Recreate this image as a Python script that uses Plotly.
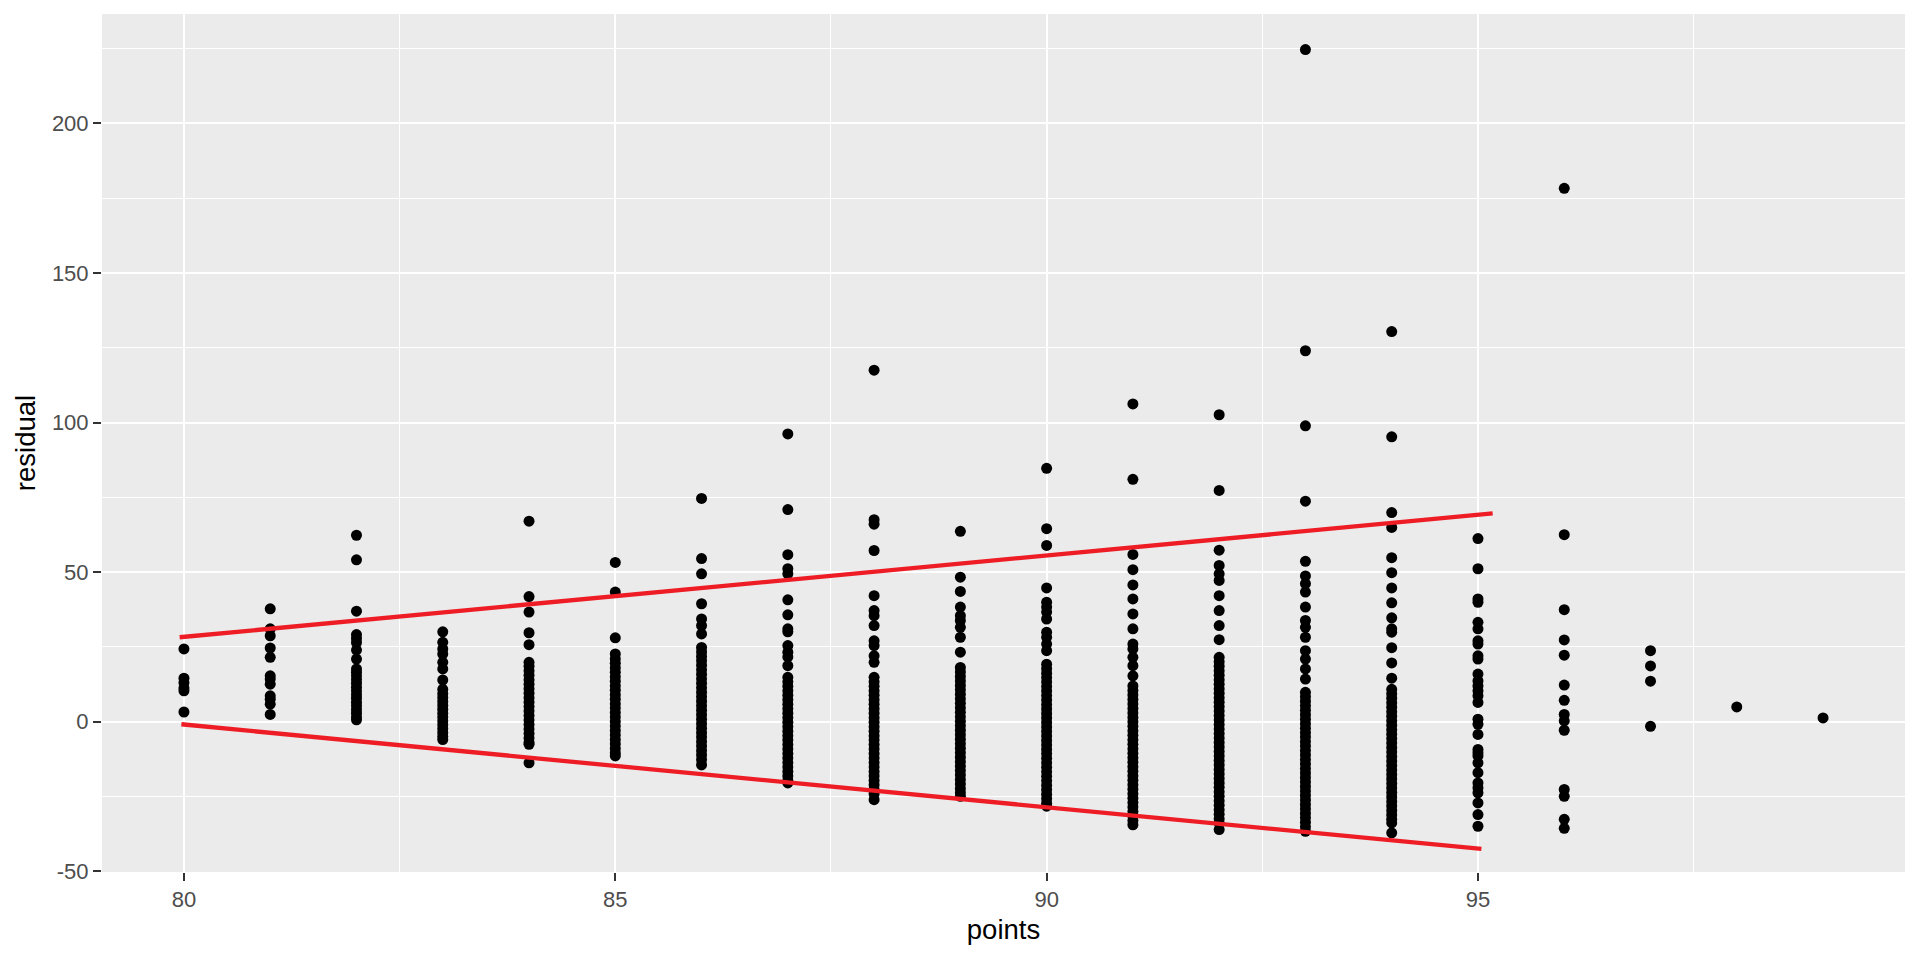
import plotly.graph_objects as go

# ---- data ----
res_80 = [24.3, 14.5, 13.0, 11.2, 10.3, 3.2]
res_81 = [37.7, 31.0, 28.7, 24.6, 21.5, 15.3, 14.2, 12.5, 8.6, 7.5, 5.8, 2.4]
res_82 = [62.3, 54.1, 36.9, 29.1, 27.8, 26.4, 23.9, 20.9, 17.6, 16.5, 15.3, 14.0, 12.8,
          11.5, 10.3, 9.0, 7.8, 6.5, 5.3, 4.0, 2.8, 1.5, 0.6]
res_83 = [30.0, 26.5, 24.3, 22.6, 19.8, 17.6, 13.9, 10.8, 9.3, 8.0, 6.7, 5.4, 4.1, 2.8,
          1.5, 0.2, -1.1, -2.4, -3.7, -5.0, -6.0]
res_84 = [67.0, 41.8, 36.6, 29.7, 25.7, 19.8, 18.5, 17.0, 15.5, 14.0, 12.5, 11.0, 9.5,
          8.0, 6.5, 5.0, 3.5, 2.0, 0.5, -1.0, -2.5, -4.0, -5.5, -7.0, -7.6, -13.8]
res_85 = [53.2, 43.3, 28.0, 22.6, 21.0, 19.5, 18.0, 16.5, 15.0, 13.5, 12.0, 10.5, 9.0,
          7.5, 6.0, 4.5, 3.0, 1.5, 0.0, -1.5, -3.0, -4.5, -6.0, -7.5, -9.0, -10.5, -11.5]
res_86 = [74.6, 54.5, 49.4, 39.4, 34.3, 32.1, 29.3, 24.8, 23.3, 21.8, 20.3, 18.8, 17.3,
          15.8, 14.3, 12.8, 11.3, 9.8, 8.3, 6.8, 5.3, 3.8, 2.3, 0.8, -0.7, -2.2, -3.7,
          -5.2, -6.7, -8.2, -9.7, -11.2, -12.7, -14.5]
res_87 = [96.2, 70.9, 55.8, 51.1, 49.4, 40.7, 35.7, 31.0, 30.0, 25.4, 23.2, 21.6, 18.7,
          14.8, 13.3, 11.8, 10.3, 8.8, 7.3, 5.8, 4.3, 2.8, 1.3, -0.2, -1.7, -3.2, -4.7,
          -6.2, -7.7, -9.2, -10.7, -12.2, -13.7, -15.2, -16.7, -18.2, -19.7, -20.5]
res_88 = [117.5, 67.5, 66.0, 57.2, 42.1, 37.1, 35.4, 32.1, 27.0, 25.4, 22.0, 19.8, 14.8,
          13.3, 11.8, 10.3, 8.8, 7.3, 5.8, 4.3, 2.8, 1.3, -0.2, -1.7, -3.2, -4.7, -6.2,
          -7.7, -9.2, -10.7, -12.2, -13.7, -15.2, -16.7, -18.2, -19.7, -21.2, -22.7,
          -24.2, -26.1]
res_89 = [63.6, 48.3, 43.5, 38.3, 35.4, 33.8, 31.5, 28.2, 23.2, 18.1, 16.6, 15.1, 13.6,
          12.1, 10.6, 9.1, 7.6, 6.1, 4.6, 3.1, 1.6, 0.1, -1.4, -2.9, -4.4, -5.9, -7.4,
          -8.9, -10.4, -11.9, -13.4, -14.9, -16.4, -17.9, -19.4, -20.9, -22.4, -23.8, -25.0]
res_90 = [84.7, 64.5, 58.9, 44.7, 39.9, 38.3, 36.6, 34.3, 29.9, 28.2, 25.9, 23.7, 19.2,
          17.7, 16.2, 14.7, 13.2, 11.7, 10.2, 8.7, 7.2, 5.7, 4.2, 2.7, 1.2, -0.3, -1.8,
          -3.3, -4.8, -6.3, -7.8, -9.3, -10.8, -12.3, -13.8, -15.3, -16.8, -18.3, -19.8,
          -21.3, -22.8, -24.3, -25.8, -27.3, -28.3]
res_91 = [106.2, 81.0, 55.9, 50.8, 45.7, 41.0, 36.0, 31.0, 25.9, 24.3, 21.5, 18.7, 15.3,
          11.9, 10.4, 8.9, 7.4, 5.9, 4.4, 2.9, 1.4, -0.1, -1.6, -3.1, -4.6, -6.1, -7.6,
          -9.1, -10.6, -12.1, -13.6, -15.1, -16.6, -18.1, -19.6, -21.1, -22.6, -24.1,
          -25.6, -27.1, -28.6, -30.1, -31.6, -33.1, -34.5]
res_92 = [102.6, 77.3, 57.3, 52.2, 49.4, 47.2, 42.1, 37.1, 32.1, 27.4, 21.5, 20.0, 18.5,
          17.0, 15.5, 14.0, 12.5, 11.0, 9.5, 8.0, 6.5, 5.0, 3.5, 2.0, 0.5, -1.0, -2.5,
          -4.0, -5.5, -7.0, -8.5, -10.0, -11.5, -13.0, -14.5, -16.0, -17.5, -19.0, -20.5,
          -22.0, -23.5, -25.0, -26.5, -28.0, -29.5, -31.0, -32.5, -34.0, -36.1]
res_93 = [224.7, 124.0, 98.9, 73.7, 53.6, 48.7, 46.1, 43.3, 38.3, 33.8, 31.5, 28.2, 23.7,
          20.9, 17.6, 14.2, 9.8, 8.3, 6.8, 5.3, 3.8, 2.3, 0.8, -0.7, -2.2, -3.7, -5.2,
          -6.7, -8.2, -9.7, -11.2, -12.7, -14.2, -15.7, -17.2, -18.7, -20.2, -21.7,
          -23.2, -24.7, -26.2, -27.7, -29.2, -30.7, -32.2, -33.7, -35.2, -36.7]
res_94 = [130.4, 95.2, 69.9, 64.9, 54.8, 49.8, 44.7, 39.7, 34.7, 31.0, 29.9, 24.7, 19.6,
          14.5, 10.8, 9.3, 7.8, 6.3, 4.8, 3.3, 1.8, 0.3, -1.2, -2.7, -4.2, -5.7, -7.2,
          -8.7, -10.2, -11.7, -13.2, -14.7, -16.2, -17.7, -19.2, -20.7, -22.2, -23.7,
          -25.2, -26.7, -28.2, -29.7, -31.2, -32.7, -33.9, -37.2]
res_95 = [61.2, 51.1, 41.0, 39.9, 33.2, 31.0, 27.0, 25.9, 22.0, 20.9, 15.9, 13.6, 11.9,
          10.3, 8.6, 6.4, 0.8, -0.9, -4.3, -9.3, -10.4, -11.5, -13.8, -17.1, -20.5,
          -22.1, -23.8, -27.2, -31.1, -35.0]
res_96 = [178.3, 62.5, 37.4, 27.3, 22.2, 12.2, 7.1, 2.4, 0.2, -2.9, -22.7, -25.0, -32.7, -35.7]
res_97 = [23.7, 18.6, 13.5, -1.6]
res_98 = [4.9]
res_99 = [1.2]

points_levels = [80, 81, 82, 83, 84, 85, 86, 87, 88, 89,
                 90, 91, 92, 93, 94, 95, 96, 97, 98, 99]
residual_columns = [res_80, res_81, res_82, res_83, res_84, res_85, res_86, res_87,
                    res_88, res_89, res_90, res_91, res_92, res_93, res_94, res_95,
                    res_96, res_97, res_98, res_99]

upper_x = [79.95, 95.17]
upper_y = [28.2, 69.6]
lower_x = [79.97, 95.04]
lower_y = [-0.9, -42.6]

x_ticks = [80, 85, 90, 95]
y_ticks = [-50, 0, 50, 100, 150, 200]

# ---- build ----
xs, ys = [], []
for p, col in zip(points_levels, residual_columns):
    for v in col:
        xs.append(p)
        ys.append(v)

FONT = "Arial, 'Liberation Sans', Helvetica, sans-serif"

fig = go.Figure()
fig.add_trace(go.Scatter(x=xs, y=ys, mode="markers",
                         marker=dict(color="black", size=11, line=dict(width=0)),
                         showlegend=False, hoverinfo="x+y"))
fig.add_trace(go.Scatter(x=upper_x, y=upper_y, mode="lines",
                         line=dict(color="#EE1D25", width=4.3), showlegend=False))
fig.add_trace(go.Scatter(x=lower_x, y=lower_y, mode="lines",
                         line=dict(color="#EE1D25", width=4.3), showlegend=False))

axis_common = dict(
    showgrid=True, gridcolor="white", gridwidth=2.2,
    zeroline=False, showline=False,
    ticks="outside", ticklen=8, tickwidth=2, tickcolor="#333333",
    tickfont=dict(family=FONT, size=22, color="#4D4D4D"),
)

fig.update_xaxes(
    range=[79.05, 99.95], tickmode="array", tickvals=x_ticks,
    ticktext=[str(t) for t in x_ticks],
    minor=dict(tickmode="array", tickvals=[82.5, 87.5, 92.5, 97.5],
               showgrid=True, gridcolor="white", gridwidth=1.1, ticks=""),
    title=dict(text="points", font=dict(family=FONT, size=27.5, color="black"), standoff=8),
    **axis_common,
)
fig.update_yaxes(
    range=[-50.3, 236.6], tickmode="array", tickvals=y_ticks,
    ticktext=[str(t) for t in y_ticks],
    minor=dict(tickmode="array", tickvals=[-25, 25, 75, 125, 175, 225],
               showgrid=True, gridcolor="white", gridwidth=1.1, ticks=""),
    title=dict(text="residual", font=dict(family=FONT, size=27.5, color="black"), standoff=8),
    **axis_common,
)

# page body has an 8px margin: size the figure so that the panel lands where the
# reference has it in the 1920x960 window
fig.update_layout(
    width=1904, height=944,
    margin=dict(l=94, r=7, t=6, b=80, pad=0),
    plot_bgcolor="#EBEBEB", paper_bgcolor="white",
    font=dict(family=FONT),
)

fig.write_html("out.html")
